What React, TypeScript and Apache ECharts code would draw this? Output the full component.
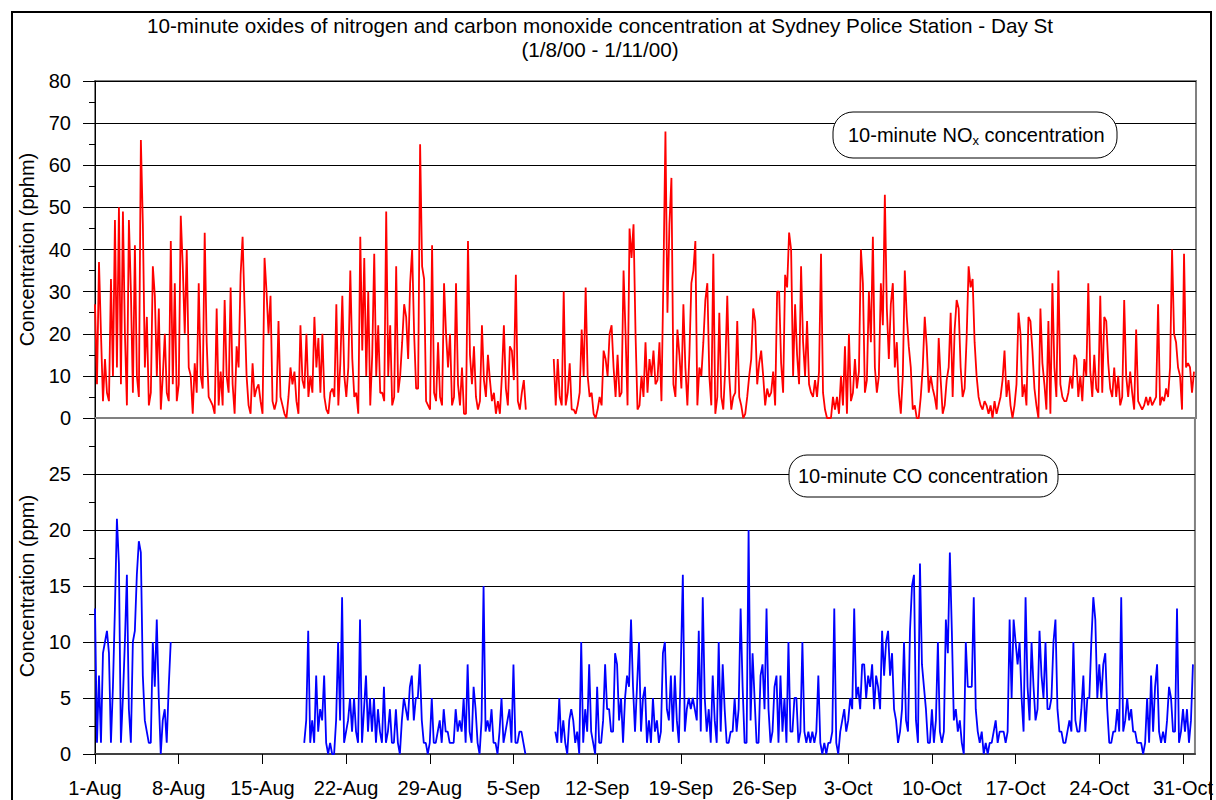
import React, { useEffect, useRef } from 'react';
import * as echarts from 'echarts';

// ---- data (6 readings per day, 4-hourly, starting 1 Aug 2000 00:00) ----
const samplesPerDay = 6;
const xTickLabels = ['1-Aug', '8-Aug', '15-Aug', '22-Aug', '29-Aug', '5-Sep', '12-Sep', '19-Sep', '26-Sep', '3-Oct', '10-Oct', '17-Oct', '24-Oct', '31-Oct'];

// NOx (pphm)
const noxAug = [
  27, 8, 37, 20, 4, 14, 6, 4, 33, 10, 47, 12, 50, 8, 49, 20, 3, 47, 30, 6, 41, 10, 5, 66,
  46, 12, 24, 3, 6, 36, 29, 10, 26, 2, 10, 20, 6, 4, 42, 8, 32, 4,
  8, 48, 36, 20, 40, 12, 10, 1, 13, 6, 32, 10, 7, 44, 18, 5, 4, 3, 1, 26, 3, 11, 3, 28,
  10, 6, 31, 8, 1, 17, 12, 34, 43, 26, 10, 3, 1, 13, 5, 7, 8, 4,
  1, 38, 30, 20, 29, 4, 2, 4, 23, 5, 3, 1, 0, 5, 12, 8, 11, 4, 1, 22, 9, 7, 20, 5,
  10, 6, 24, 12, 19, 6, 20, 5, 2, 1, 6, 7, 5, 27, 3, 13, 29, 10,
  5, 12, 35, 14, 5, 6, 1, 43, 16, 38, 10, 30, 3, 15, 39, 10, 22, 6, 6, 4, 49, 10, 22, 3,
  5, 36, 6, 10, 18, 27, 24, 14, 32, 40, 20, 7, 7, 65, 36, 33, 4, 3,
  2, 41, 6, 4, 18, 5, 3, 32, 20, 12, 20, 3, 5, 32, 8, 3, 12, 1,
];
const noxSep = [
  1, 42, 15, 8, 17, 5, 2, 4, 22, 9, 5, 15, 9, 4, 6, 1, 4, 1, 10, 22, 7, 3, 17, 16,
  9, 34, 4, 2, 6, 9, 2, null, null, null, null, null, null, null, null, null, null, null,
  null, null, 14, 3, 14, 5, 3, 30, 3, 6, 13, 2, 2, 1, 3, 6, 21, 10, 31, 10, 5, 6, 1, 0,
  2, 5, 3, 16, 14, 10, 20, 22, 12, 5, 15, 5, 6, 35, 20, 3, 45, 38,
  46, 20, 2, 3, 10, 5, 18, 6, 14, 10, 16, 8, 9, 18, 4, 34, 68, 25, 46, 57, 8, 5, 21, 15,
  7, 27, 12, 3, 15, 32, 35, 42, 3, 12, 10, 18, 28, 32, 10, 3, 39, 1,
  5, 25, 5, 2, 12, 29, 10, 2, 5, 6, 23, 5, 3, 0, 1, 5, 10, 14, 26, 23, 8, 13, 16, 10,
  3, 7, 5, 6, 11, 3, 30, 30, 13, 6, 34, 31, 44, 40, 10, 27, 15, 8,
  36, 18, 10, 23, 8, 6, 5, 9, 5, 11, 39, 6,
];
const noxOct = [
  2, 0, 0, 0, 5, 2, 5, 1, 10, 3, 17, 1, 20, 4, 6, 14, 7, 11, 40, 32, 6, 9, 30, 18,
  43, 12, 6, 10, 32, 22, 53, 26, 14, 27, 32, 12, 18, 6, 1, 10, 35, 24,
  17, 12, 2, 3, 0, 0, 5, 12, 24, 17, 6, 10, 7, 5, 2, 19, 9, 1, 3, 9, 12, 25, 5, 21,
  28, 26, 12, 5, 7, 19, 36, 31, 33, 18, 10, 5, 3, 2, 4, 3, 1, 3,
  0, 4, 1, 3, 5, 9, 16, 5, 9, 3, 0, 3, 8, 25, 20, 5, 8, 3, 24, 23, 16, 7, 3, 0,
  26, 13, 8, 2, 23, 1, 32, 12, 5, 35, 8, 5, 4, 4, 6, 10, 7, 15,
  14, 5, 10, 4, 14, 10, 32, 11, 5, 15, 7, 6, 29, 6, 24, 23, 13, 7, 5, 12, 5, 10, 3, 5,
  28, 10, 5, 11, 6, 2, 21, 4, 3, 2, 3, 5, 3, 5, 3, 4, 5, 27,
  3, 5, 4, 7, 5, 12, 40, 20, 18, 12, 10, 2, 39, 12, 13, 12, 6, 11,
];

// CO (ppm)
const coAug = [
  13, 1, 7, 1, 9, 10, 11, 9, 1, 6, 13, 21, 17, 1, 5, 10, 16, 4, 1, 10, 11, 16, 19, 18,
  7, 3, 2, 1, 1, 10, 6, 12, 5, 0, 3, 4, 1, 6, 10, null, null, null,
  null, null, null, null, null, null, null, null, null, null, null, null,
  null, null, null, null, null, null, null, null, null, null, null, null,
  null, null, null, null, null, null, null, null, null, null, null, null,
  null, null, null, null, null, null, null, null, null, null, null, null,
  null, null, null, null, null, null, null, null, null, null, null, null,
  null, null, null, 1, 3, 11, 1, 3, 1, 7, 2, 4, 3, 7, 1, 0, 1, 0,
  0, 3, 10, 3, 14, 1, 2, 3, 5, 2, 5, 2, 1, 12, 1, 4, 7, 2, 5, 2, 5, 1, 4, 2,
  1, 6, 1, 2, 4, 1, 1, 4, 1, 0, 3, 5, 4, 3, 6, 7, 3, 5, 5, 8, 3, 1, 1, 0,
  1, 5, 1, 1, 2, 3, 1, 4, 2, 2, 1, 1, 1, 4, 2, 3, 2, 5,
];
const coSep = [
  1, 8, 2, 1, 6, 4, 1, 0, 3, 15, 2, 3, 2, 4, 1, 1, 0, 2, 5, 1, 2, 3, 4, 1,
  8, 1, 1, 2, 2, 1, 0, null, null, null, null, null, null, null, null, null, null, null,
  null, null, null, 2, 1, 5, 1, 3, 1, 0, 3, 4, 3, 1, 2, 0, 10, 1, 4, 2, 8, 2, 1, 0,
  6, 1, 1, 3, 8, 4, 4, 2, 2, 9, 8, 3, 5, 1, 5, 7, 6, 12,
  6, 2, 6, 10, 2, 5, 6, 1, 3, 1, 5, 2, 3, 1, 2, 9, 10, 4, 3, 7, 2, 7, 3, 1,
  8, 16, 2, 4, 5, 4, 5, 4, 3, 11, 2, 14, 5, 2, 4, 1, 7, 3,
  1, 10, 2, 8, 4, 1, 1, 2, 2, 5, 2, 4, 13, 6, 1, 1, 20, 3, 9, 5, 1, 1, 7, 8,
  4, 13, 4, 1, 2, 6, 7, 1, 7, 2, 5, 1, 10, 2, 2, 5, 5, 1,
  2, 10, 2, 1, 2, 1, 2, 1, 2, 7, 1, 0,
];
const coOct = [
  1, 0, 1, 1, 2, 13, 1, 0, 2, 3, 4, 2, 3, 5, 4, 13, 5, 6, 4, 8, 8, 5, 7, 6,
  8, 4, 7, 6, 4, 11, 7, 10, 11, 7, 9, 4, 3, 1, 2, 4, 10, 3,
  2, 11, 15, 16, 3, 1, 17, 8, 6, 4, 1, 1, 4, 1, 3, 10, 2, 1, 2, 12, 9, 18, 11, 3,
  4, 2, 3, 1, 0, 10, 6, 6, 6, 14, 4, 2, 1, 2, 0, 1, 0, 1,
  1, 2, 3, 1, 2, 2, 2, 1, 2, 12, 5, 12, 10, 8, 10, 5, 2, 14, 6, 3, 10, 6, 3, 4,
  11, 7, 5, 10, 4, 4, 5, 10, 12, 4, 2, 2, 1, 1, 2, 3, 2, 10,
  3, 2, 2, 4, 7, 2, 5, 5, 10, 14, 12, 5, 8, 5, 8, 9, 4, 1, 1, 2, 2, 4, 2, 14,
  2, 3, 5, 3, 4, 2, 2, 1, 1, 1, 0, 1, 5, 1, 7, 2, 6, 8,
  2, 1, 2, 1, 3, 6, 5, 2, 2, 13, 1, 2, 4, 2, 4, 1, 3, 8,
];

const FONT = 'Liberation Sans, Arial, Helvetica, sans-serif';

function toSeries(values: (number | null)[]) {
  return values.map((v, i) => [i / samplesPerDay, v === null ? '-' : v]);
}

export default function App() {
  const ref = useRef<HTMLDivElement>(null);

  useEffect(() => {
    if (!ref.current) return;
    const chart = echarts.init(ref.current, undefined, { renderer: 'svg' });
    const nox = toSeries([...noxAug, ...noxSep, ...noxOct]);
    const co = toSeries([...coAug, ...coSep, ...coOct]);

    const yAxisCommon = (name: string) => ({
      type: 'value' as const,
      name,
      nameLocation: 'middle' as const,
      nameRotate: 90,
      nameGap: 58,
      nameTextStyle: { fontSize: 20, fontFamily: FONT, color: '#000' },
      axisLine: { show: true, lineStyle: { color: '#000', width: 1 } },
      axisTick: { show: true, length: 12, lineStyle: { color: '#000' } },
      minorTick: { show: true, splitNumber: 2, length: 6, lineStyle: { color: '#000' } },
      axisLabel: { fontSize: 20, fontFamily: FONT, color: '#000', margin: 24 },
      splitLine: { show: true, lineStyle: { color: '#000', width: 1 } },
    });

    chart.setOption({
      animation: false,
      backgroundColor: '#fff',
      grid: [
        { left: 95, top: 81, width: 1101, height: 337, show: true, borderColor: '#808080', borderWidth: 2 },
        { left: 95, top: 418, width: 1101, height: 336, show: true, borderColor: '#808080', borderWidth: 2 },
      ],
      xAxis: [
        {
          type: 'value', gridIndex: 0, min: 0, max: 92, interval: 7,
          axisLine: { show: true, lineStyle: { color: '#808080', width: 2 } },
          axisTick: { show: false }, axisLabel: { show: false }, splitLine: { show: false },
        },
        {
          type: 'value', gridIndex: 1, min: 0, max: 92, interval: 7,
          axisLine: { show: true, lineStyle: { color: '#404040', width: 2 } },
          axisTick: { show: true, length: 10, lineStyle: { color: '#000' } },
          axisLabel: {
            fontSize: 20, fontFamily: FONT, color: '#000', margin: 24,
            showMaxLabel: false,
            formatter: (v: number) => (v % 7 === 0 && xTickLabels[v / 7] ? xTickLabels[v / 7] : ''),
          },
          splitLine: { show: false },
        },
      ],
      yAxis: [
        { ...yAxisCommon('Concentration (pphm)'), gridIndex: 0, min: 0, max: 80, interval: 10 },
        {
          ...yAxisCommon('Concentration (ppm)'), gridIndex: 1, min: 0, max: 30, interval: 5,
          axisLabel: {
            fontSize: 20, fontFamily: FONT, color: '#000', margin: 24,
            formatter: (v: number) => (v === 30 ? '' : String(v)),
          },
        },
      ],
      series: [
        {
          name: '10-minute NOx concentration', type: 'line', xAxisIndex: 0, yAxisIndex: 0,
          data: nox, showSymbol: false, connectNulls: false,
          lineStyle: { color: '#ff0000', width: 1.8 }, itemStyle: { color: '#ff0000' },
        },
        {
          name: '10-minute CO concentration', type: 'line', xAxisIndex: 1, yAxisIndex: 1,
          data: co, showSymbol: false, connectNulls: false,
          lineStyle: { color: '#0000ff', width: 1.8 }, itemStyle: { color: '#0000ff' },
        },
      ],
      graphic: [
        {
          type: 'rect', silent: true, z: 100,
          shape: { x: 12, y: 12, width: 1199, height: 820 },
          style: { fill: 'none', stroke: '#000', lineWidth: 2 },
        },
        {
          type: 'text', x: 600, y: 25, z: 100,
          style: {
            text: '10-minute oxides of nitrogen and carbon monoxide concentration at Sydney Police Station - Day St',
            fontSize: 20.7, fontFamily: FONT, fill: '#000', textAlign: 'center', textVerticalAlign: 'middle',
          },
        },
        {
          type: 'text', x: 600, y: 49, z: 100,
          style: {
            text: '(1/8/00 - 1/11/00)',
            fontSize: 20.7, fontFamily: FONT, fill: '#000', textAlign: 'center', textVerticalAlign: 'middle',
          },
        },
        {
          type: 'rect', z: 100,
          shape: { x: 833, y: 112, width: 284, height: 46, r: 20 },
          style: { fill: '#fff', stroke: '#000', lineWidth: 1 },
        },
        {
          type: 'text', x: 848, y: 135, z: 101,
          style: {
            text: '10-minute NO{sub|x} concentration',
            fontSize: 20, fontFamily: FONT, fill: '#000', textAlign: 'left', textVerticalAlign: 'middle',
            rich: { sub: { fontSize: 13, fontFamily: FONT, fill: '#000', padding: [10, 0, 0, 0] } },
          },
        },
        {
          type: 'rect', z: 100,
          shape: { x: 789, y: 455, width: 269, height: 42, r: 18 },
          style: { fill: '#fff', stroke: '#000', lineWidth: 1 },
        },
        {
          type: 'text', x: 923, y: 476, z: 101,
          style: {
            text: '10-minute CO concentration',
            fontSize: 20, fontFamily: FONT, fill: '#000', textAlign: 'center', textVerticalAlign: 'middle',
          },
        },
      ],
    });

    return () => chart.dispose();
  }, []);

  return (
    <div
      ref={ref}
      style={{ position: 'fixed', left: 0, top: 0, width: 1216, height: 800, background: '#fff' }}
    />
  );
}
